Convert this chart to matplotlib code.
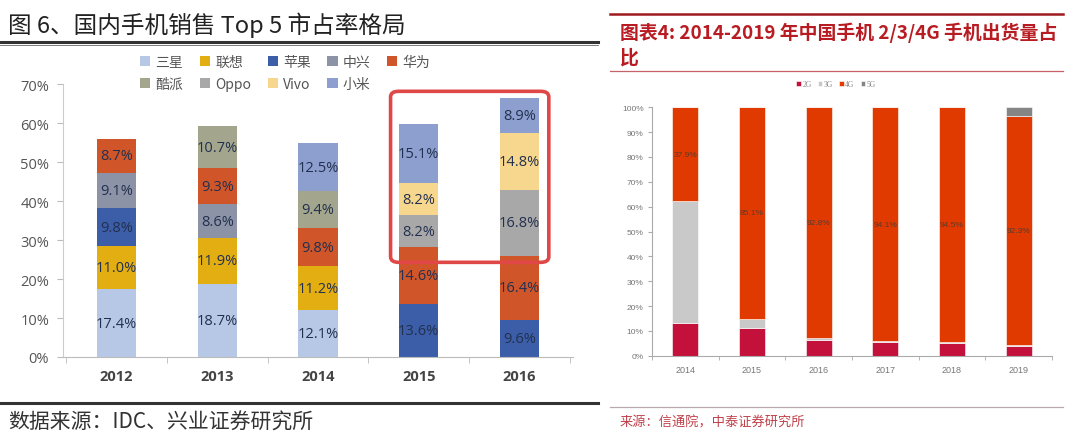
import matplotlib
matplotlib.use("Agg")
import matplotlib.pyplot as plt
import numpy as np
from matplotlib.patches import FancyBboxPatch
from matplotlib.lines import Line2D

plt.rcParams['font.family'] = ['Noto Sans CJK SC', 'DejaVu Sans']

# ---- left chart: top-5 share by year (%) ----
years_l = ["2012", "2013", "2014", "2015", "2016"]
brands = ["三星", "联想", "苹果", "中兴", "华为", "酷派", "Oppo", "Vivo", "小米"]
share = {
    "三星": [17.4, 18.7, 12.1, 0, 0],
    "联想": [11.0, 11.9, 11.2, 0, 0],
    "苹果": [9.8, 0, 0, 13.6, 9.6],
    "中兴": [9.1, 8.6, 0, 0, 0],
    "华为": [8.7, 9.3, 9.8, 14.6, 16.4],
    "酷派": [0, 10.7, 9.4, 0, 0],
    "Oppo": [0, 0, 0, 8.2, 16.8],
    "Vivo": [0, 0, 0, 8.2, 14.8],
    "小米": [0, 0, 12.5, 15.1, 8.9],
}
brand_colors = ["#b7c8e6", "#e2ae12", "#3c5ea8", "#8c93a6", "#d0562a",
                "#a3a68c", "#a8a8a8", "#f7d68e", "#8d9fcf"]

# ---- right chart: 2G/3G/4G/5G share of shipments (%) ----
years_r = ["2014", "2015", "2016", "2017", "2018", "2019"]
gens = ["2G", "3G", "4G", "5G"]
g2 = [13.0, 11.0, 6.5, 5.5, 5.2, 3.9]
g3 = [49.1, 3.9, 0.7, 0.4, 0.3, 0.4]
g4 = [37.9, 85.1, 92.8, 94.1, 94.5, 92.3]
g5 = [0, 0, 0, 0, 0, 3.4]
gen_colors = ["#c4113c", "#c9c9c9", "#e03a00", "#858585"]

W, H = 1080, 439
fig = plt.figure(figsize=(W / 100, H / 100), dpi=100)
fig.patch.set_facecolor("white")


def fx(px):
    return px / W


def fy(py):
    return 1 - py / H


# ================= left panel =================
fig.text(fx(8), fy(25), "图 6、国内手机销售 Top 5 市占率格局", fontsize=17,
         color="#222222", va="center", ha="left", fontweight="medium")
fig.add_artist(Line2D([0, fx(598)], [fy(43), fy(43)], color="#333333", lw=2.2))
fig.add_artist(Line2D([0, fx(598)], [fy(46), fy(46)], color="#666666", lw=0.6))
fig.add_artist(Line2D([0, fx(598)], [fy(404), fy(404)], color="#333333", lw=2.2))
fig.text(fx(8), fy(423), "数据来源：IDC、兴业证券研究所", fontsize=15,
         color="#333333", va="center", ha="left")

axl = fig.add_axes([fx(63), fy(358), fx(573) - fx(63), fy(85.3) - fy(358)])
x = np.arange(len(years_l))
bottom = np.zeros(len(years_l))
handles = []
for b, c in zip(brands, brand_colors):
    vals = np.array(share[b])
    bars = axl.bar(x, vals, bottom=bottom, width=0.39, color=c, edgecolor="none", label=b)
    handles.append(bars)
    for xi, v, bt in zip(x, vals, bottom):
        if v > 0:
            axl.text(xi, bt + v / 2, f"{v:.1f}%", ha="center", va="center",
                     fontsize=10.5, color="#22304f", family=["Open Sans", "DejaVu Sans"])
    bottom += vals

axl.set_xlim(-0.53, len(years_l) - 0.47)
axl.set_ylim(0, 70)
axl.set_yticks(np.arange(0, 71, 10))
axl.set_yticklabels([f"{v}%" for v in range(0, 71, 10)], fontsize=10.5, color="#555555",
                    family=["Open Sans", "DejaVu Sans"])
axl.set_xticks(x)
axl.set_xticklabels(years_l, fontsize=10.5, color="#444444", fontweight="bold",
                    family=["Open Sans", "DejaVu Sans"])
axl.tick_params(axis="x", length=0, pad=9)
axl.set_xticks(np.arange(-0.5, len(years_l), 1.0), minor=True)
axl.tick_params(axis="x", which="minor", length=4, color="#bbbbbb")
axl.tick_params(axis="y", length=4, color="#bbbbbb", pad=6)
for s in ["top", "right"]:
    axl.spines[s].set_visible(False)
axl.spines["left"].set_color("#cccccc")
axl.spines["bottom"].set_color("#bbbbbb")

# legend in row-major order (2 rows x 5 cols)
order = [0, 5, 1, 6, 2, 7, 3, 8, 4]
fig.legend([handles[i] for i in order], [brands[i] for i in order],
           loc="upper left", bbox_to_anchor=(fx(140), fy(56)), ncol=5,
           frameon=False, fontsize=10, handlelength=0.75, handleheight=0.75,
           handletextpad=0.35, columnspacing=1.2, labelspacing=0.55,
           labelcolor="#555555", borderaxespad=0, borderpad=0)

# red highlight box around 2015-2016
box = FancyBboxPatch((2.72, 24.3), 4.29 - 2.72, 68.2 - 24.3,
                     boxstyle="round,pad=0,rounding_size=0.08",
                     mutation_aspect=18, fill=False, edgecolor="#e04848",
                     lw=2.6, clip_on=False, transform=axl.transData)
axl.add_patch(box)

# ================= right panel =================
red = "#b81c22"
fig.add_artist(Line2D([fx(610), fx(1063)], [fy(15), fy(15)], color="#9e1a20", lw=1.8))
fig.add_artist(Line2D([fx(610), fx(1063)], [fy(72), fy(72)], color="#c8606a", lw=0.9))
fig.text(fx(620), fy(33), "图表4: 2014-2019 年中国手机 2/3/4G 手机出货量占",
         fontsize=13.6, color=red, fontweight="bold", va="center", ha="left")
fig.text(fx(620), fy(58), "比", fontsize=13.6, color=red, fontweight="bold",
         va="center", ha="left")
fig.add_artist(Line2D([fx(610), fx(1063)], [fy(408), fy(408)], color="#b9a9ad", lw=0.9))
fig.text(fx(620), fy(423), "来源：信通院，中泰证券研究所", fontsize=9.5,
         color="#c0404a", va="center", ha="left")

axr = fig.add_axes([fx(652), fy(356.7), fx(1052) - fx(652), fy(108.3) - fy(356.7)])
xr = np.arange(len(years_r))
bot = np.zeros(len(years_r))
rh = []
for name, vals, c in zip(gens, [g2, g3, g4, g5], gen_colors):
    vals = np.array(vals)
    bb = axr.bar(xr, vals, bottom=bot, width=0.39, color=c, edgecolor="white",
                 linewidth=0.4, label=name)
    rh.append(bb)
    if name == "4G":
        for xi, v, bt in zip(xr, vals, bot):
            axr.text(xi, bt + v / 2, f"{v:.1f}%", ha="center", va="center",
                     fontsize=6, color="#5a3a30", family=["Liberation Sans", "DejaVu Sans"])
    bot += vals

axr.set_xlim(-0.5, len(years_r) - 0.5)
axr.set_ylim(0, 100)
axr.set_yticks(np.arange(0, 101, 10))
axr.set_yticklabels([f"{v}%" for v in range(0, 101, 10)], fontsize=6, color="#777777",
                    family=["Liberation Sans", "DejaVu Sans"])
axr.set_xticks(xr)
axr.set_xticklabels(years_r, fontsize=6.5, color="#777777",
                    family=["Liberation Sans", "DejaVu Sans"])
axr.tick_params(axis="x", length=0, pad=7)
axr.set_xticks(np.arange(-0.5, len(years_r), 1.0), minor=True)
axr.tick_params(axis="x", which="minor", length=3, color="#aaaaaa")
axr.tick_params(axis="y", length=3, color="#aaaaaa", pad=3)
for s in ["top", "right"]:
    axr.spines[s].set_visible(False)
axr.spines["left"].set_color("#aaaaaa")
axr.spines["bottom"].set_color("#aaaaaa")

fig.legend(rh, gens, loc="center", bbox_to_anchor=(fx(836), fy(85)), ncol=4,
           frameon=False, handlelength=0.6, handleheight=0.6,
           handletextpad=0.2, columnspacing=0.8, labelcolor="#888888",
           prop={"family": ["Liberation Serif", "DejaVu Serif"], "size": 5.5})

fig.savefig("out.png", dpi=100, facecolor="white")
